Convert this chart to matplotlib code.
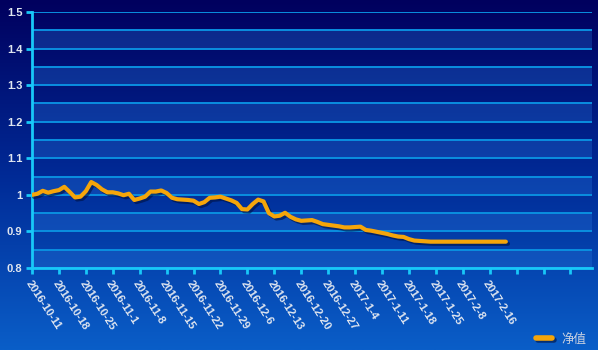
import numpy as np
import matplotlib
matplotlib.use('Agg')
import matplotlib.pyplot as plt
import matplotlib.patheffects as pe
from matplotlib.colors import LinearSegmentedColormap

plt.rcParams['font.family'] = ['Liberation Sans', 'Noto Sans CJK SC', 'DejaVu Sans']

# ── 数据 ─────────────────────────────────────────────
tick_labels = ["2016-10-11", "2016-10-18", "2016-10-25", "2016-11-1", "2016-11-8",
               "2016-11-15", "2016-11-22", "2016-11-29", "2016-12-6", "2016-12-13",
               "2016-12-20", "2016-12-27", "2017-1-4", "2017-1-11", "2017-1-18",
               "2017-1-25", "2017-2-8", "2017-2-16", "", "", ""]

nav = [1.000, 1.003, 1.011, 1.006, 1.010, 1.013, 1.022, 1.008, 0.993, 0.995,
       1.010, 1.035, 1.027, 1.015, 1.007, 1.007, 1.004, 0.999, 1.003, 0.986,
       0.990, 0.995, 1.009, 1.009, 1.012, 1.005, 0.992, 0.988, 0.987, 0.986,
       0.984, 0.975, 0.980, 0.992, 0.993, 0.995, 0.990, 0.985, 0.978, 0.961,
       0.960, 0.975, 0.987, 0.982, 0.950, 0.941, 0.943, 0.951, 0.940, 0.933,
       0.929, 0.930, 0.931, 0.926, 0.920, 0.918, 0.916, 0.914, 0.911, 0.911,
       0.912, 0.913, 0.904, 0.902, 0.899, 0.896, 0.893, 0.889, 0.886, 0.885,
       0.879, 0.875, 0.874, 0.873, 0.872, 0.872, 0.872, 0.872, 0.872, 0.872,
       0.872, 0.872, 0.872, 0.872, 0.872, 0.872, 0.872, 0.872, 0.872]

n_slots = 105  # 类目轴总长度

fig = plt.figure(figsize=(5.98, 3.5), dpi=100)

# 背景渐变
bg = fig.add_axes([0, 0, 1, 1], zorder=-10)
cmap = LinearSegmentedColormap.from_list('bg', ['#00005e', '#002a96', '#0a5ec8'])
bg.imshow(np.linspace(0, 1, 256).reshape(-1, 1), aspect='auto', cmap=cmap,
          extent=[0, 1, 0, 1])
bg.axis('off')

ax = fig.add_axes([32 / 598, 82 / 350, 560 / 598, 256 / 350])
ax.set_facecolor('none')
ax.set_xlim(0, n_slots - 1)
ax.set_ylim(0.8, 1.5)

# 间隔色带 + 网格
for lo in np.arange(0.8, 1.5, 0.1):
    ax.axhspan(lo, lo + 0.05, color='#2a7ae0', alpha=0.3, lw=0, zorder=0)
for v in np.arange(0.8, 1.501, 0.05):
    ax.axhline(v, color='#0a8fe0', lw=1.4, zorder=1)

x = np.arange(len(nav))
ax.plot(x, nav, color='#f5a50a', lw=3.0, solid_capstyle='round', zorder=5,
        label='净值',
        path_effects=[pe.SimpleLineShadow(offset=(1.5, -1.5), shadow_color='#001040', alpha=0.6),
                      pe.Normal()])

ax.set_yticks(np.arange(0.8, 1.501, 0.1))
ax.set_yticklabels(['0.8', '0.9', '1', '1.1', '1.2', '1.3', '1.4', '1.5'])
ax.set_xticks(np.arange(0, n_slots, 5))
ax.set_xticklabels(tick_labels, rotation=-57, ha='left', va='top',
                   rotation_mode='anchor')

for s in ['top', 'right']:
    ax.spines[s].set_visible(False)
for s in ['left', 'bottom']:
    ax.spines[s].set_color('#18c8f8')
    ax.spines[s].set_linewidth(2)
ax.tick_params(axis='both', colors='#18c8f8', width=2, length=4)
ax.tick_params(axis='y', labelcolor='#e0e6f0', labelsize=8, pad=3)
ax.tick_params(axis='x', labelcolor='#e0e6f0', labelsize=8, pad=4)
for t in ax.get_yticklabels() + ax.get_xticklabels():
    t.set_fontweight('bold')

leg = fig.legend(loc='lower right', bbox_to_anchor=(1.0, -0.02), frameon=False,
                 fontsize=9, handlelength=1.3, labelcolor='#c8d0e0')
for h in leg.get_lines():
    h.set_linewidth(4)

fig.savefig('out.png', dpi=100)
